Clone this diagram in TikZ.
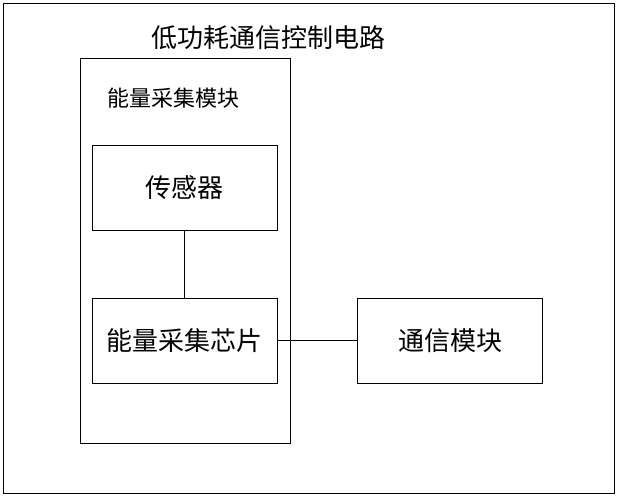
\documentclass[tikz,border=0pt]{standalone}
\usepackage{fontspec}
\newfontfamily\cjk{Noto Sans CJK SC}
\begin{document}
\begin{tikzpicture}[x=1pt,y=-1pt,line width=0.8pt,
  blk/.style={draw,minimum width=185pt,minimum height=85pt,inner sep=0pt,font=\cjk\fontsize{26}{30}\selectfont}]
\useasboundingbox (0,0) rectangle (619,500);
\draw (3,3) rectangle (614,493);
\node (title) at (268,38) {\cjk\fontsize{26}{30}\selectfont 低功耗通信控制电路};
\draw (80,58) rectangle (290,443);
\node (lab) at (173,98) {\cjk\fontsize{22}{26}\selectfont 能量采集模块};
\node[blk] (sensor) at (184.5,187.5) {传感器};
\node[blk] (chip) at (184.5,340.5) {能量采集芯片};
\node[blk] (comm) at (450,340.5) {通信模块};
\draw (sensor) -- (chip);
\draw (chip) -- (comm);
\end{tikzpicture}
\end{document}
